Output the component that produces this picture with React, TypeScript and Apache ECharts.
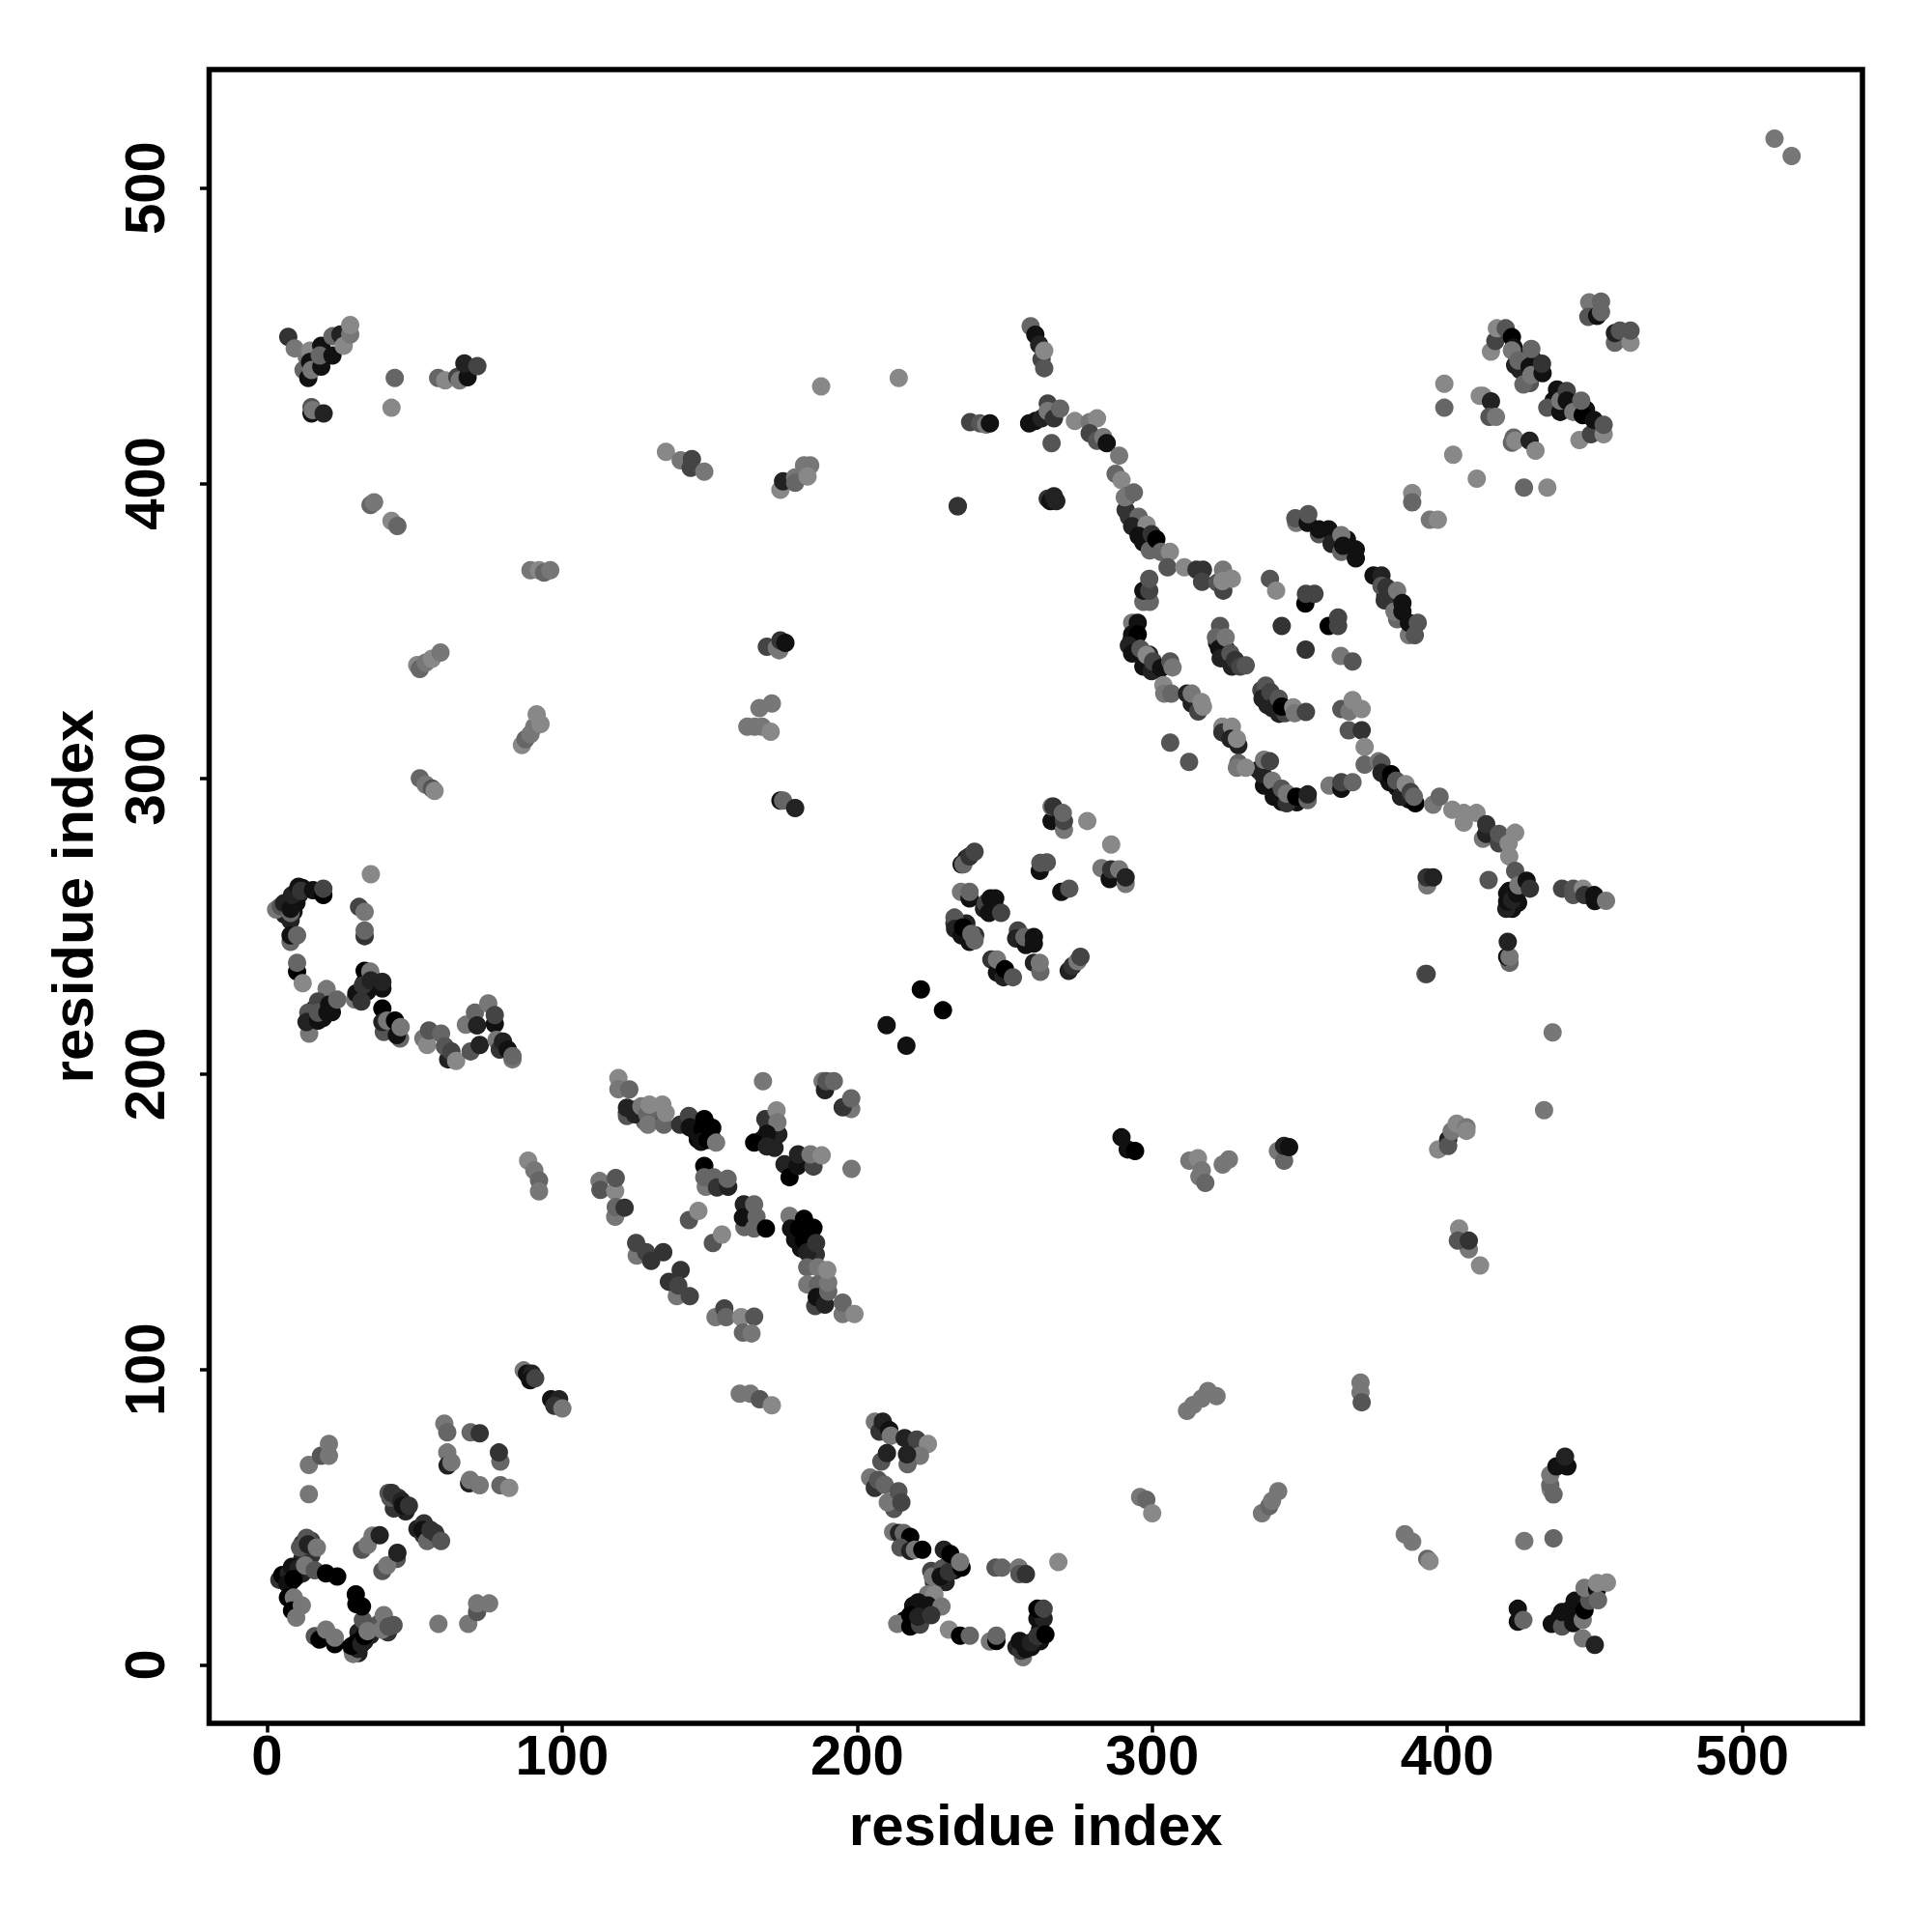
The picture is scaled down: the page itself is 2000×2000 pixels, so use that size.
import React, { useEffect, useRef } from "react";
import * as echarts from "echarts";

// each point: [residue index x, residue index y, grey shade 0 (black) .. 8 (light)]
type P = number[];
const xTicks = [0, 100, 200, 300, 400, 500];
const yTicks = [0, 100, 200, 300, 400, 500];
const axisName = "residue index";

// contacts largely hidden inside the dense blobs, drawn first
const denseBlobs: P[] = [
[6,29,1],[8,28,0],[10,30,1],[12,31,2],[14,33,3],[12,36,2],[15,37,3],[12,41,3],[15,42,4],
[44,55,2],[47,52,2],[43,53,3],[51,46,2],[53,44,3],[56,43,3],
[29,5,1],[31,4,2],[33,8,1],[35,10,2],[31,11,2],
[40,14,4],[41,11,3],[38,14,5],
[218,15,1],[222,18,2],[219,20,1],[216,15,1],[228,31,2],[231,34,1],[233,32,1],[230,28,2],[226,28,3],
[257,7,1],[259,6,1],[260,8,2],[262,12,1],[262,8,1],[254,6,2],
[145,184,1],[146,178,0],[148,179,0],[151,178,0],[149,183,0],
[180,149,0],[182,146,0],[184,145,0],[179,144,1],[181,141,1],[186,139,3],
[168,178,2],[171,177,1],[170,182,2],[172,175,2],
[122,187,2],[125,188,3],[132,185,5],[128,184,6],
[236,248,2],[237,251,2],[233,251,3],[240,247,3],[245,257,1],[247,256,2],[243,256,2],[237,273,2],
[293,347,1],[294,345,1],[296,342,2],[298,339,1],[301,337,2],[299,342,2],
[322,346,1],[324,342,1],[326,340,2],[325,344,2],
[339,325,2],[341,326,2],[343,322,2],[337,330,4],
[339,299,1],[341,296,1],[343,294,1],[346,293,1],[349,292,1],[336,303,2],
[295,384,1],[297,380,1],[299,379,1],[291,391,3],[301,378,3],
[378,302,1],[380,300,1],[383,297,1],[385,295,1],[387,293,1],
[12,263,1],[10,258,1],[7,258,1],[9,255,1],[6,254,2],[11,261,1],[8,252,2],
[33,231,1],[31,227,2],[36,232,1],[34,228,1],
[16,222,1],[19,219,1],[22,221,1],[19,224,2],
[421,262,1],[421,259,1],[424,258,1],[422,256,1],[425,263,1],[420,256,2],
[424,443,1],[426,441,1],[429,442,2],[423,440,2],[428,434,5],
[438,430,1],[440,426,1],[443,427,1],[447,425,1],[436,428,1],
[438,16,1],[441,16,1],[444,18,1],[442,19,1],[449,24,2],
[352,387,1],[366,381,1],[379,362,1],[381,360,1],[383,354,6],
];

const nTermLoop: P[] = [
[4.2,28.8,3],[5.2,30.4,0],[7.4,31,2],[8.5,33.2,1],[10.7,32.6,2],[6.9,27.5,1],[9,29,0],[12.9,33.7,7],[16.2,32,5],[20,31,0],[23.8,29.9,0],
[11.2,39.7,5],[13.4,43,5],[13.9,40.8,2],[16.9,39.7,7],
[7.1,22.8,0],[9.1,22.8,7],[8.5,18.4,0],[11.8,20.1,7],[9.9,16,7],
[16.2,9.7,5],[17.8,8.6,0],[20,11.9,7],[23,7,0],[23,9.2,7],
[29.2,3.7,7],[30.9,5.4,2],[28.7,6.4,0],[30.3,7.5,0],[32,7,2],[33,9.7,0],[32.5,15.2,5],[34.1,11.4,7],
[30.1,23.9,0],[30.3,20.6,0],[32.2,19.8,0],
[39.6,16.8,7],[39,11.9,7],[41.2,13,5],[42.9,13.5,5],
[58.1,13.9,7],[68.2,13.9,7],[71.2,17.9,5],[71.2,20.8,7],[75.3,20.8,7],
[14.2,67.7,7],[14.2,57.8,7],[18.3,70.8,5],[21,70.8,7],[21,74.8,7],
[39.1,31.8,5],[44,35.9,5],[40.7,33.7,7],[44.2,37.9,2],[32.2,39,5],[34.1,40.6,7],[35.8,43.7,7],[38.2,43.9,2],
[41.2,58.2,5],[41.8,56.6,5],[42.3,58.2,3],[44.5,56.6,3],[45.6,55.5,2],[46.1,53.9,1],[48.1,53.9,3],
[53.2,47.9,3],[52.7,45.7,1],[54.3,41.9,6],[55.4,45.7,3],[57,44.6,3],[59,41.9,5],
[60.1,81.7,7],[61.1,78.7,6],[61.1,71.9,7],[61.2,67.5,2],[62.5,68.6,7],
[69,78.7,6],[72.1,78.4,3],[79.1,68.8,6],[78.6,71.9,3],
[68.5,61.5,2],[68.8,62.6,7],[72.1,60.8,7],[79.1,60.8,6],[82.1,59.9,8],
[87,99.7,7],[88.1,98.6,1],[89.8,98.6,2],[89.2,96.4,1],[90.9,97,4],
[96.3,89.9,1],[99,89.9,2],[97.4,87.7,3],[100.1,86.8,7],
];

const middleBlock: P[] = [
[119.1,198.7,8],[119.1,194.9,7],[122.8,194.8,6],
[122,185.8,5],[122,188.6,2],[124.7,186.4,2],[126.9,189.1,7],[128.9,186.4,6],[129.1,182.9,7],[129.6,189.7,8],[134.5,182.9,6],[134,189.7,8],[135.1,186.9,8],
[140,182.9,3],[143,185.8,4],[143.3,182,1],[145.4,180.4,1],[148.2,184.8,0],[147.6,181.5,0],[150.9,181.8,0],[147.1,177.1,1],[149.3,177.7,0],[152.2,176.8,7],
[168.1,197.6,7],[168.9,184.8,3],[172.7,187.7,8],[173.3,179.6,2],[173,183.7,7],[169.4,179.8,1],[165.1,176.8,0],[169.4,175.5,2],
[188.3,197.6,7],[189.1,194.6,2],[189.6,197.6,5],[192.1,197.6,6],[198,188.2,7],[195.1,188.8,3],[198,191.8,6],
[175.4,169.5,2],[177.1,165.1,0],[179.8,168.9,1],[180,172.8,2],[185.2,168.7,4],[184.2,172.8,7],[188,172.5,8],[198.1,167.9,7],
[148.2,168.9,0],[148.7,161.9,7],[148.2,165.1,6],[151.4,165.1,6],[152.5,161.6,3],[156.3,161.9,2],[156.1,164.6,6],
[112.7,163.8,7],[113,160.8,5],[118,160.4,8],[118.2,164.8,5],[118,151.7,7],[118.2,155,6],[121.2,154.8,3],
[143,150.6,5],[146.2,153.7,8],[151.1,142.8,5],[154.2,145.7,8],
[161.6,155.9,2],[161.8,148.2,6],[161.3,151.5,1],[165.1,155.9,6],[165.9,151.7,6],[165.1,147.7,6],[169.1,147.7,0],
[177.1,152,7],[177.6,147.7,1],[180.3,147.7,0],[182,151,0],[185.2,148,0],[182,143.9,0],[183.1,139.7,2],[186.1,142.8,3],
[183.1,134.6,6],[186.7,134.6,7],[183.1,128.8,7],[186.7,128.8,6],[185.8,121.5,4],[186.3,124.5,1],[189.1,122,2],[190.2,126.4,6],[190.2,129.4,7],[189.9,133.7,8],
[195.1,118.8,7],[195.1,122.6,6],[199.1,118.8,8],
[125.3,138.6,7],[125.1,142.8,4],[128.5,139.7,4],[130.2,136.8,3],[134.3,139.7,3],
[138.9,124.8,7],[136.2,129.7,3],[140.2,133.7,3],[139.4,128.4,4],[143.3,124.8,4],
[152,117.7,7],[155,120.7,4],[155.6,117.7,6],[160.7,117.7,8],[165.1,117.9,5],[161.3,112.5,6],[164.2,112.2,7],
[160.2,91.8,7],[163.8,91.8,7],[167,89.9,5],[171.1,87.9,8],
[210,216.6,1],[216.7,209.6,1],[221.6,228.7,0],[229.1,221.6,0],
];

const lowerMiddle: P[] = [
[206,82.3,7],[207.6,79,3],[208.7,82.3,2],[210.9,79.5,1],[211.4,77.6,7],
[216.1,76.8,2],[220.2,76.3,4],[224,74.8,8],[221.3,70.8,7],[217.1,67.9,6],[216.9,71.3,2],[208.2,68.8,5],[210.1,71.7,2],
[204.4,63.4,7],[206,59.9,3],[207.1,62.6,5],[209.3,61,6],[212.5,52.8,5],[210.4,55,7],[214,58.8,5],[215,55,4],
[212.2,45,7],[214.2,44.6,2],[215.8,44.6,6],[218,43.3,0],[214.7,39.7,5],[218,38.6,2],[219.6,39,7],[222.1,39,0],
[225.1,31.8,4],[225.6,29.9,7],[228.9,32.6,5],[228.3,29.9,1],[231.1,31.5,3],[229.4,39,2],[231.6,37.5,0],[235.4,32.9,0],[234.9,34.8,7],
[224,23.9,7],[226.2,23.9,8],[220.7,21.2,1],[224,20.1,1],[228.6,19.8,7],[213.6,13.9,7],[218,16.8,0],[218,13,0],[221.3,13.6,4],[220.7,16.3,2],[225.1,16.8,3],
[231.1,11.9,8],[234.9,9.9,0],[238.2,9.9,6],[245,7.9,7],[247.2,8.1,0],[247.2,9.9,6],
[246.9,32.9,5],[249.1,32.9,6],[254.8,32.9,7],[255,30.7,5],[257.2,30.7,3],[268.2,34.8,8],
[261.1,15.7,1],[263.2,15.7,2],[261.1,19,0],[263.2,19,4],[256.2,2.6,7],[255.6,4.8,3],[255.1,8.1,1],[257.2,5.4,1],[258.9,7.6,2],[261.1,9.7,3],[263.8,10.3,0],
[295.9,56.8,7],[298,55.9,6],[300,51.3,8],[337.2,51.3,7],[339.7,53.8,6],[340.6,55.5,7],[342.7,58.8,7],
[311.8,86,7],[313.9,88,7],[316.8,90.2,7],[318.9,92.7,7],[321.8,91,7],[370.6,95.6,7],[370.6,92.2,7],[371,88.9,5],
[385.6,44.2,7],[388.1,41.7,7],[393.2,35.9,6],[394,35.1,8],
];

const lowerRight: P[] = [
[426.1,41.9,7],[436,42.8,6],[435,59.4,8],[436,57.7,6],[434.9,60.9,6],[434.9,64.3,7],[437,67.2,1],[440.7,67.2,1],[439.9,70.5,2],
[423.9,19,1],[423.9,14.6,1],[425.8,15.2,6],[435.4,13.9,1],[438.9,13,5],[438.9,17.9,1],[442.7,14.1,1],[445.9,15.2,7],[443.2,21.7,1],[446.5,18.5,0],[448.1,21.7,5],
[446.5,26.1,7],[450.8,25.6,1],[451.1,21.9,6],[450.8,27.7,8],[454.1,27.9,8],[445.9,9,7],[450,6.8,2],
[289.6,178.6,1],[291.7,174.5,1],[294.2,174,0],[312.6,170.7,7],[315.5,171.5,8],[316.8,167.4,7],[316,165.3,7],[318,163.2,6],[323.9,169.4,7],[326,171.1,7],
[342.6,174,7],[344.7,170.7,6],[344.7,175.7,2],[346.4,175.3,1],
[396.9,174.5,8],[400.3,177.8,2],[400.3,175.7,5],[401.5,180.7,7],[403.2,183.2,8],[406.5,182,7],[406.5,180.8,8],
[404,147.7,8],[407.3,140.7,7],[403.6,143.6,5],[407.3,143.6,3],[411.1,135.2,8],
[435.7,214.1,7],[432.8,187.8,7],
];

const leftColumn: P[] = [
[3.1,255.7,7],[4.7,256.8,5],[5.8,257.9,2],[8,254.6,6],[8,256,1],[8.5,260.6,2],[10.7,263.4,1],[11.5,262,3],[15.6,262.3,1],[19.1,260.6,0],[19.1,262.8,4],
[8,244.8,6],[8,247,1],[10.2,247,6],[10.2,234.7,0],[10.2,237.7,6],[12.1,230.8,8],[35.2,267.7,8],
[31.2,256.6,4],[33.1,254.9,7],[33.1,246.7,3],[33.1,248.6,6],
[20.2,228.8,7],[17.3,224.6,4],[14.3,213.7,7],[14,220.8,5],[13.4,217.6,2],[17.3,218.1,1],[17.3,220.8,5],[20.5,220.8,1],[21.1,223.5,1],[23.8,225.2,6],
[29.8,225.2,7],[30.3,227.4,1],[32,224.6,3],[33.1,235,0],[32.5,230.1,3],[35,234.7,7],[35.2,231.7,2],[39.1,229,1],[39.1,231.2,2],
[39.1,222.2,0],[39.6,214.3,5],[39.1,217.6,2],[40.7,218.1,7],[43.4,218.1,0],[45.1,212.1,6],[44,213.2,1],[45.3,215.9,7],
[53,212.1,7],[54.3,209.9,8],[54.9,214.8,5],[59,213.7,6],[61.4,205,2],[60.3,209.4,5],[62.5,207.7,4],[64.1,204.5,8],
[69,207.7,5],[72.1,209.9,2],[67.4,216.7,7],[70.5,220.8,6],[71.2,216.5,2],[75,223.9,7],[77.2,217,1],[77.2,220,4],
[77.8,211.6,7],[78.9,208.3,3],[80,211,2],[83.2,205,7],[81.6,208.3,1],[83.2,206.1,6],
[88.5,170.7,8],[90.6,167.4,7],[92.2,164,6],[92.2,160.3,7],
];

const centerBlock: P[] = [
[235.2,261.7,7],[238.1,259.5,1],[238.1,261.7,6],[243.6,257.9,4],[244.7,254.6,1],[245.2,259.5,1],[246.8,259.5,1],[248.8,254.6,4],
[235.4,271,1],[236,271,6],[238.1,273.7,3],[239.8,275.3,4],
[233,253,5],[233.2,249.2,2],[235.4,247,1],[235.9,249.7,0],[238.1,244.8,1],[238.7,247.5,6],[239.8,245.3,6],
[254.5,248.6,4],[253.9,245.9,2],[257.2,243.7,1],[256.7,246.4,6],[259.9,244.2,1],[259.9,246.4,1],
[245.5,238.8,3],[247.4,234.4,1],[247.4,238.8,7],[249.6,232.8,2],[250.1,235.5,0],[252.8,232.8,5],
[259.9,237.7,2],[262.1,234.6,6],[261.9,237.7,7],
[271.7,235,2],[273,236.6,3],[274.7,238.2,7],[275.7,239.7,4],
[261.9,268.8,1],[262.1,271.5,5],[264.3,271.7,5],[269.2,261.7,1],[271.9,262.8,5],
[265.9,285.7,1],[265.9,290.6,7],[266.5,290.6,3],[270.1,282.7,7],[270.1,285.7,4],[269.7,288.4,6],
[278,285.7,8],[286.1,277.7,8],[282.8,269.7,7],[285.6,266,1],[286.1,269.3,3],[288.8,269.3,7],[291,264.4,7],[291,266.6,2],
[392.6,233.9,6],[393,233.9,4],
];

const helixBands: P[] = [
[273.8,421.1,8],[278.8,420.7,7],[281.3,422,8],[278.8,417,4],[281.3,414.4,5],[283.4,415.7,7],[284.6,413.6,1],[288.8,409.4,7],[287.6,403.2,6],[289.6,401.1,8],[291.7,395.7,5],
[290.7,395.3,7],[293.8,396.9,6],[292.1,388.7,3],[295.4,388.7,6],[293.2,385.5,2],[298.1,386,8],[295.4,382.2,1],[299.2,377.3,6],[299.8,382.8,3],[301.4,381.1,0],[303,376.8,6],[306,376.8,8],[305.2,371.6,5],[310.9,371.6,8],[315,370.8,3],[317.2,370.8,3],[316.9,366.7,4],
[322.1,366.4,5],[324.1,363.7,4],[324,370.8,7],[323.8,366.9,8],[327,367.7,8],[339.9,367.7,5],[342,363.7,8],
[297,359.9,6],[299.2,359.9,6],[297,363.7,1],[299,363.7,4],[299,367.7,5],
[293.2,352.8,7],[295.1,352.8,1],[293.2,348.9,1],[295.1,348.9,0],[292.1,345.1,2],[293.2,342.4,1],[296,344,5],[297,338,1],[298.1,341.9,8],[299.8,336.4,2],[300.3,339.7,4],[303,337.5,1],[306.1,339.7,5],[306.9,337.7,7],
[303.8,331.7,8],[304.1,328.8,7],[306.5,328.8,6],[311.8,328.8,2],[313.4,325.5,2],[315.6,322.8,4],[313.4,328.8,7],[316.7,326,8],[317.2,324.4,8],
[306.1,312.2,5],[312.5,305.7,5],
[323,351.7,5],[321.6,347.9,6],[322.7,344,1],[324.9,347.9,7],[323.2,340.8,2],[326.5,342.4,5],[327,338,2],[328.1,340.2,3],[329.8,338,4],[331.7,338.4,5],
[338.5,331.5,5],[337.4,327.1,2],[340.1,329.3,4],[340.7,323.9,2],[342.9,327.1,5],[345,322.2,4],[343.9,324.4,0],[347.8,324.2,8],[348.3,322.2,7],[352.1,322.6,4],
[343.9,351.7,3],[352,343.7,3],[351.9,359.3,0],[352.1,362.6,4],[355,362.6,4],[359.8,351.7,0],[363,351.7,4],[363,354.6,4],[363.9,341.6,7],[367.9,339.7,5],
[348.8,386.6,7],[348.5,388.2,5],[352.7,386.6,1],[352.9,389.6,5],[356.5,382.8,5],[356.5,384.4,1],[359.8,384.4,1],[360.8,379.5,2],[364.1,382.5,7],[364.1,376.8,6],[364.7,378.9,1],[369,377.6,1],[369,374.6,1],
[375,368.8,1],[377.7,368.8,2],[377.7,365.3,5],[378.8,360.4,3],[379.4,364.8,3],[383,363.7,7],[382.1,356.6,7],[384.8,359.5,1],[384.8,356.6,1],[387,348.6,7],[387,352.8,1],[389,348.6,5],[390,352.8,5],
[388.1,396.7,8],[388.1,393.6,6],[394.1,387.7,7],[396.8,387.7,8],
];

const lowerBands: P[] = [
[364.1,323.6,5],[366.8,322.8,7],[367.9,326.6,8],[371,323.6,8],[366.6,316.4,5],[371,316.4,3],[372,310.8,8],[372,304.8,6],
[323.8,317.6,8],[323.8,315.7,3],[327,317.6,8],[326.5,313.5,2],[329.2,311.3,2],[328.7,313.5,8],[329.2,305.3,6],[328.7,303.7,7],[331.7,303.7,8],
[337.9,297.7,1],[337.4,301.5,2],[337.9,306.4,7],[339.9,305.9,4],[340.7,299.3,7],[341.2,293.9,1],[343.9,292.2,1],[343.9,296.6,5],[345.6,291.7,3],[345.6,295,7],[348.8,293.9,0],[352.7,292.8,6],[352.7,294.7,2],
[360.1,297.7,7],[364.1,296.6,1],[364.1,298.8,4],[367.9,298.8,6],
[376.7,305.9,7],[377.7,305.3,5],[377.7,302,2],[380.5,298.8,1],[381,301.5,0],[382.7,299.3,5],[384.3,293.9,2],[385.9,298.2,8],[389.2,291.7,0],[387.6,295.5,4],[388.7,293.9,6],
[395.2,291.2,7],[397.4,293.9,6],[401.7,289.5,8],[405.6,285.2,8],[405.6,288.4,8],[409.9,288.4,8],[412.1,279.7,7],[413.2,281.3,2],[413.2,284.6,3],[417.5,278.1,4],[417.5,281.3,5],[423,281.7,8],[420.8,278.1,8],[421,273.7,8],
[393.2,263.9,7],[393,266.6,3],[395.2,266.6,2],[414,265.7,5],
[423,268.8,5],[420.3,258.4,1],[420.3,261.1,1],[422,259,2],[423.6,261.1,1],[424.1,263.9,7],[426.9,265.5,1],[428,262.8,3],
[438.9,262.8,4],[442.7,260.6,5],[442.7,262.8,5],[446,262.8,8],[446.5,260.6,3],[450,258.6,1],[449.8,260.6,1],[453.8,258.7,7],
[421.1,237.7,6],[420.3,239.7,1],[421.1,239.7,7],[420.5,244.8,2],
];

const upperRight: P[] = [
[448.1,461.3,7],[447.8,456.4,5],[450.8,456.7,1],[452.1,461.5,6],[452.1,458,6],
[456.8,447.6,6],[456.8,450.9,2],[458.5,451.7,5],[462.1,447.6,8],[462.1,451.7,5],
[414.8,444.6,8],[416.3,448.2,4],[416.8,452.5,8],[419.8,452.5,5],[421.9,449.5,0],[422.5,446,1],[421.9,445,7],[424.7,438.4,2],[424.1,441.6,6],[425.8,433.5,6],[427.9,439.5,1],[428.5,436.7,7],[428.5,445.5,6],[432.3,437.3,1],[432.1,440.5,3],
[433.9,425.6,5],[437.2,431.8,1],[438.3,424.2,1],[438.3,428,7],[440.5,431.3,4],[440.5,428,1],[442.7,424.2,7],[445.9,423.1,0],[445.4,428,6],[444.8,414.7,8],[448.7,416.6,4],[449.7,421.5,1],[453,416.6,8],[453,419.8,5],
[399,433.7,8],[399,425.6,6],[411,429.6,8],[412.1,429.6,8],[414.8,427.8,2],[414.3,422.5,5],[416.5,422.5,7],
[421.9,413.8,6],[422.5,415.5,6],[423,414.4,8],[427.9,414.4,2],[429.9,411.1,8],
[402,409.7,8],[410,401.6,8],[426,398.6,6],[433.9,398.6,8],
[510.9,516.7,7],[516.7,510.8,7],
];

const upperMiddle: P[] = [
[135.2,410.7,8],[140.2,407.8,7],[143.6,405.3,4],[144,408.2,4],[148.2,404,7],
[174,397.8,8],[174.9,400.7,2],[179,402,7],[179,400.2,6],[182,406.1,7],[184.1,406.1,7],[183.2,402.3,8],
[187.8,432.8,8],[214.1,435.7,8],
[169.4,344.7,4],[172.8,344.3,7],[173.6,343.5,7],[174,346.8,3],[175.7,346,1],
[162.8,317.6,7],[165.3,317.6,7],[166.9,323.9,7],[167.8,317.6,7],[170.7,315.9,8],[171.1,325.5,7],
[174,292.6,1],[174.9,292.6,6],[179,290.1,2],
[234.1,392.3,6],[234.1,392.3,3],
[238.3,420.7,4],[241.7,420.3,5],[243.7,419.9,7],[245,420.3,1],
[258.3,420.3,1],[260.4,421.1,1],[262.5,422,2],[264.6,427,4],[264.6,424.5,7],[266.7,422,3],[268.8,425.3,6],[265.9,413.6,5],
[258.8,453.2,6],[260.4,450.3,1],[261.7,447,2],[262.5,442,4],[263.4,439,5],[263.4,444.9,8],
[264.6,394.8,3],[265.5,394,1],[266.7,395.6,2],[267.5,394,2],
];

const upperLeft: P[] = [
[7.2,449.6,3],[9.4,445.7,7],[13.5,442.7,7],[14.6,444.9,8],[12.4,438.4,6],[14,435.7,1],[14.6,441.1,1],[15.1,438.4,7],[18.4,439.5,1],[18.4,446.6,1],[17.9,443.3,6],[22.2,443.3,1],[22.2,449.8,6],[24.9,450.4,2],[26,446.6,8],[28.2,450.4,7],[28.2,453.6,8],
[15.1,425.8,5],[15.1,423.7,1],[15.5,424.8,7],[19.2,423.7,2],
[43.3,435.7,6],[42.2,425.6,8],[58,435.7,6],[60.4,434.9,8],[64.5,436,4],[65.3,434.9,7],[68,435.9,1],[66.9,440.6,2],[71.3,439.7,4],
[35.1,392.7,6],[36.3,393.6,7],[42.2,387.3,8],[44.2,385.6,6],
[89.3,370.6,7],[92.2,370.6,8],[93.9,369.8,6],[96,370.6,7],
[50.9,338.5,8],[51.8,337.2,6],[53.8,339.3,7],[55.9,340.6,8],[58.8,342.7,7],
[86.4,311.4,8],[87.6,313.4,6],[89.3,315.1,7],[90.6,317.6,7],[91.4,321.8,8],[92.7,318.5,8],
[51.8,300.1,6],[53.8,298,7],[55.9,296.7,5],[56.8,295.9,8],
];

const points: P[] = [
  ...denseBlobs, ...nTermLoop, ...middleBlock, ...lowerMiddle, ...lowerRight, ...leftColumn,
  ...centerBlock, ...helixBands, ...lowerBands, ...upperRight, ...upperMiddle, ...upperLeft,
];

const font = "'Liberation Sans', Arial, sans-serif";

export default function App() {
  const ref = useRef<HTMLDivElement>(null);
  useEffect(() => {
    const chart = echarts.init(ref.current!, undefined, { renderer: "svg" });
    const axisCommon = {
      type: "value",
      splitLine: { show: false },
      axisLine: { show: false, onZero: false },
      nameLocation: "middle",
      name: axisName,
      nameTextStyle: { fontFamily: font, fontWeight: "bold", fontSize: 60, color: "#000" },
    };
    chart.setOption({
      animation: false,
      backgroundColor: "#fff",
      grid: { left: 216.5, right: 72, top: 72, bottom: 216, show: true, borderColor: "#000", borderWidth: 5.5, backgroundColor: "transparent" },
      xAxis: {
        ...axisCommon,
        min: -19.6,
        max: 540.7,
        nameGap: 75.5,
        axisTick: { show: true, length: 9.5, customValues: xTicks, lineStyle: { color: "#000", width: 3.5 } },
        axisLabel: { customValues: xTicks, margin: 3, fontFamily: font, fontWeight: "bold", fontSize: 58, color: "#000" },
      },
      yAxis: {
        ...axisCommon,
        min: -19.8,
        max: 540.1,
        nameGap: 111.5,
        axisTick: { show: true, length: 9.5, customValues: yTicks, lineStyle: { color: "#000", width: 3.5 } },
        axisLabel: { customValues: yTicks, rotate: 90, margin: 38, fontFamily: font, fontWeight: "bold", fontSize: 58, color: "#000", align: "center", verticalAlign: "bottom" },
      },
      series: [
        {
          type: "scatter",
          symbol: "circle",
          symbolSize: 19,
          data: points,
          itemStyle: {
            opacity: 1,
            color: (p: any) => {
              const g = Math.round(p.value[2] * 17);
              return `rgb(${g},${g},${g})`;
            },
          },
        },
      ],
    });
    return () => chart.dispose();
  }, []);
  return <div ref={ref} style={{ position: "fixed", left: 0, top: 0, width: 2000, height: 2000 }} />;
}
